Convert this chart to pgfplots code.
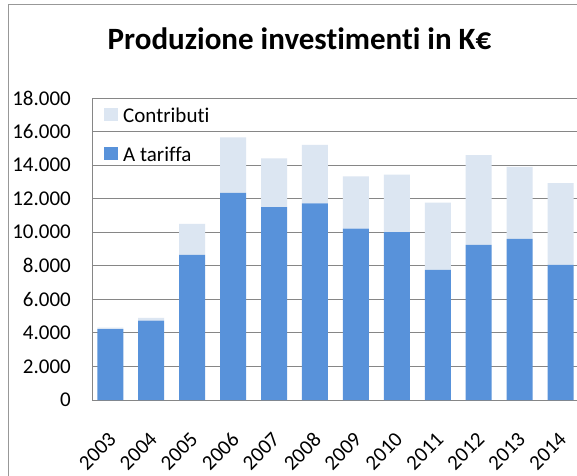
\documentclass[border=0pt]{standalone}
\usepackage{pgfplots}
\pgfplotsset{compat=1.18}
\usepackage{fontspec}
\setmainfont{Carlito}[Ligatures=NoCommon]
\definecolor{tariffa}{RGB}{88,146,218}
\definecolor{contrib}{RGB}{220,230,242}
\definecolor{gridc}{RGB}{134,134,134}
\begin{document}
\begin{tikzpicture}[x=1pt,y=1pt]
\path[use as bounding box, clip] (0,0) rectangle (577,475);
\fill[white] (0,0) rectangle (577,475);
\draw[gridc!85, line width=1pt] (8.5,-5) -- (8.5,470.5) -- (600,470.5);
\node[font=\fontsize{31}{31}\selectfont\bfseries, anchor=base, inner sep=0pt] at (299.5,425) {Produzione investimenti in K€};
\begin{axis}[
  at={(92.3pt,75pt)}, anchor=south west,
  scale only axis, width=488.7pt, height=302pt,
  ybar stacked, bar width=26pt,
  xmin=-0.44, xmax=11.5, ymin=0, ymax=18000,
  ytick={0,2000,...,18000},
  xtick=data,
  xticklabels={2003,2004,2005,2006,2007,2008,2009,2010,2011,2012,2013,2014},
  scaled y ticks=false,
  /pgf/number format/.cd, 1000 sep={.}, assume math mode=true,
  /pgfplots/.cd,
  major tick length=0pt,
  ymajorgrids, grid style={gridc, line width=0.9pt},
  axis line style={gridc, line width=0.9pt},
  tick label style={font=\fontsize{21}{21}\selectfont},
  yticklabel style={anchor=east, inner sep=0pt, xshift=-21.3pt},
  xticklabel style={xshift=-2.8pt, yshift=-31pt, rotate=45, anchor=north east, inner sep=0pt},
  legend cell align=left,
  legend style={at={(axis description cs:0.024,0.968)}, anchor=north west, draw=none, fill=none, inner sep=0pt, row sep=19pt, column sep=5pt, font=\fontsize{21}{21}\selectfont, nodes={inner sep=0pt, text height=15pt, text depth=5pt}},
  reverse legend,
  mylegend/.style={legend image code/.code={\fill[##1] (0pt,-3pt) rectangle (14pt,10pt);}},
]
\addplot[fill=tariffa, draw=none, mylegend] coordinates {(0,4230) (1,4730) (2,8650) (3,12350) (4,11500) (5,11720) (6,10210) (7,10010) (8,7750) (9,9240) (10,9610) (11,8050)};
\addplot[fill=contrib, draw=none, mylegend] coordinates {(0,80) (1,170) (2,1850) (3,3300) (4,2900) (5,3480) (6,3120) (7,3420) (8,4010) (9,5360) (10,4290) (11,4880)};
\legend{A tariffa, Contributi}
\end{axis}
\end{tikzpicture}
\end{document}
